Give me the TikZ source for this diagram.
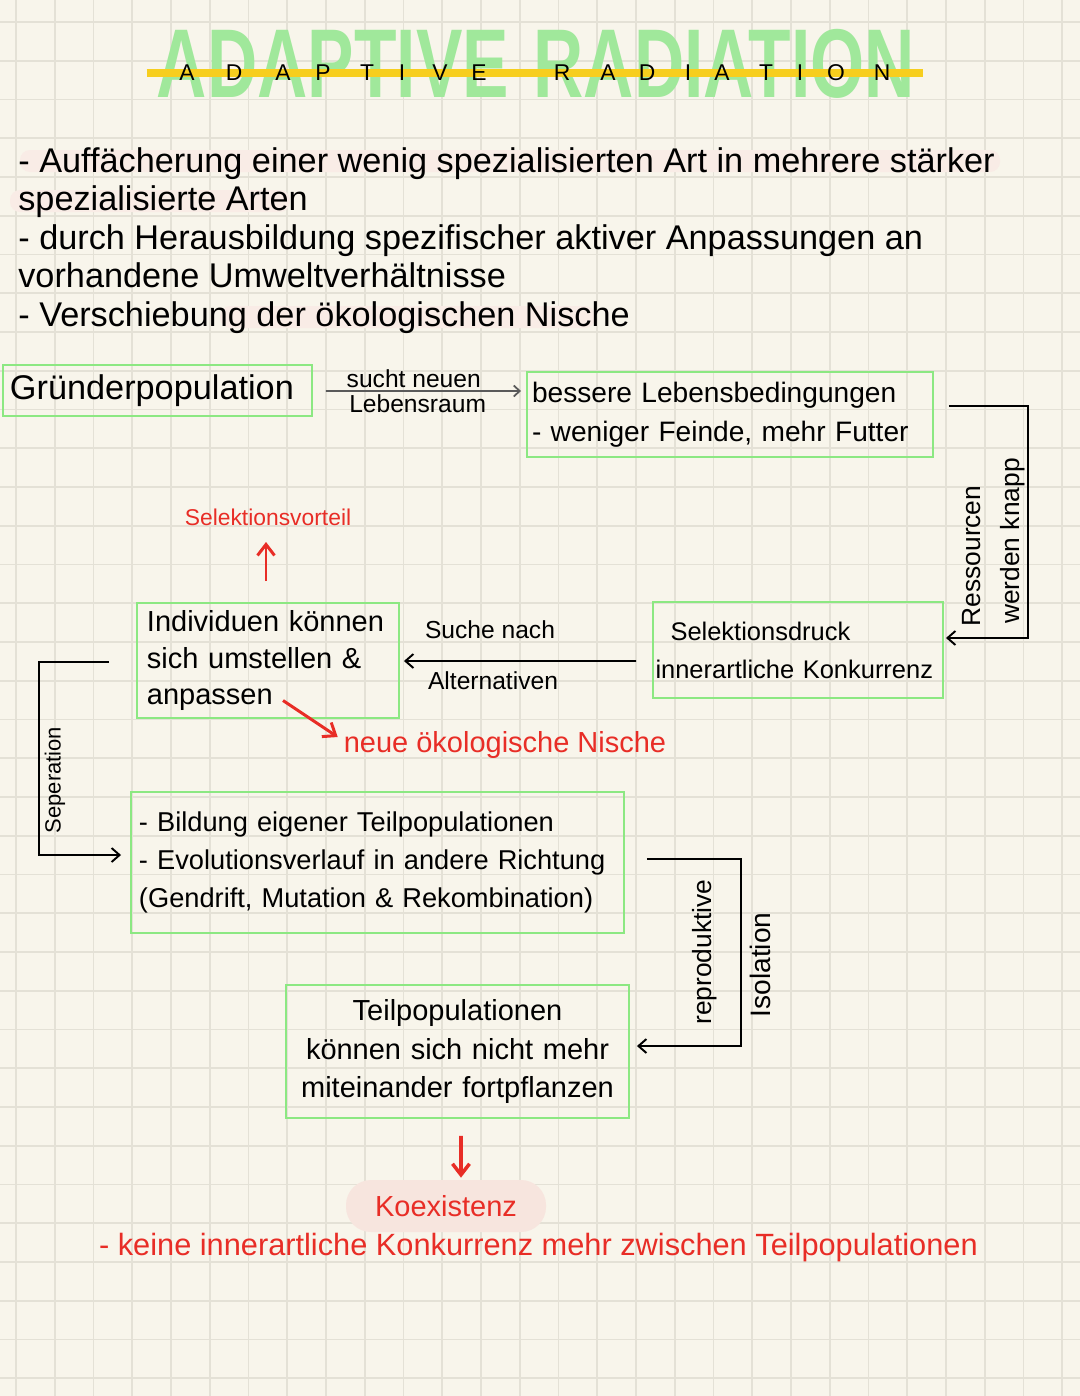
\documentclass[tikz,border=0pt]{standalone}
\usepackage{fontspec}
\usepackage{graphicx}
\setmainfont{Liberation Sans}
\usetikzlibrary{arrows.meta}

\definecolor{paper}{RGB}{248,245,235}
\definecolor{gridc}{RGB}{228,225,214}
\definecolor{boxgreen}{RGB}{140,232,130}
\definecolor{titlegreen}{RGB}{160,232,155}
\definecolor{titleyellow}{RGB}{247,206,30}
\definecolor{notered}{RGB}{232,45,38}
\definecolor{hlpink}{RGB}{247,229,222}
\definecolor{hlfaint}{RGB}{249,236,230}
\definecolor{arrowgray}{RGB}{90,90,90}

\begin{document}
\begin{tikzpicture}[x=0.2mm, y=-0.2mm,
  notebox/.style={
    rectangle, draw=boxgreen, line width=1.1pt,
    inner ysep=0pt, align=left
  },
  conn/.style={
    -{Straight Barb[length=1.6mm,width=2.8mm]},
    line width=1.1pt, black
  },
  grayconn/.style={
    -{Straight Barb[length=1.2mm,width=2.2mm]},
    line width=1pt, arrowgray
  },
  redconn/.style={
    -{Straight Barb[length=2.2mm,width=3.4mm]},
    line width=1.7pt, notered
  },
  annot/.style={
    font=\fontsize{14}{17}\selectfont, inner sep=1.5pt, text=black
  },
  redtext/.style={
    text=notered, inner sep=1pt
  },
  sidetext/.style={
    rotate=90, font=\fontsize{15}{18}\selectfont, inner sep=1pt
  },
  gridline/.style={gridc, line width=0.9pt},
  pinkhl/.style={fill=hlfaint, rounded corners=2mm}
]

% ==================== PAPER ====================

\useasboundingbox (0,0) rectangle (1080,1396);
\fill [paper] (0,0) rectangle (1080,1396);
\foreach \gx in {0,...,27}
  \draw [gridline] (16+38.75*\gx,0) -- (16+38.75*\gx,1396);
\foreach \gy in {0,...,35}
  \draw [gridline] (0,22+38.75*\gy) -- (1080,22+38.75*\gy);

% ==================== TITLE ====================

\node (titlebig) [text=titlegreen, inner sep=0pt,
    font=\fontsize{40}{40}\selectfont\bfseries] at (536,64)
    {\scalebox{0.99}[1.39]{ADAPTIVE\hspace{0.5cm}RADIATION}};

\draw [titleyellow, line width=1.6mm]
    ([shift={(-10,9)}]titlebig.west) -- ([shift={(8,9)}]titlebig.east);

\foreach \ch/\px [count=\k] in {A/187,D/234,A/283,P/323,T/367,I/402,V/440,E/479,
    R/562,A/608,D/647,I/688,A/722,T/766,I/800,O/836,N/882}
  \node (tl\k) [inner sep=0pt, font=\fontsize{13}{13}\selectfont] at (\px,73) {\ch};

% ==================== INTRO ====================

\fill [pinkhl] (20,150) rectangle (1000,172);
\fill [pinkhl] (10,190) rectangle (290,212);
\fill [pinkhl] (220,306) rectangle (595,328);

\node (intro) [anchor=north west, inner sep=0pt, align=left,
    font=\fontsize{19.5}{21.9}\selectfont] at (18,147) {
    - Auffächerung einer wenig spezialisierten Art in mehrere stärker\\
    spezialisierte Arten\\
    - durch Herausbildung spezifischer aktiver Anpassungen an\\
    vorhandene Umweltverhältnisse\\
    - Verschiebung der ökologischen Nische
};

% ==================== BOXES ====================

\node (gruender) [notebox, minimum width=6.18cm, minimum height=1.02cm,
    text width=5.9cm, inner xsep=0.14cm,
    font=\fontsize{19.5}{22}\selectfont] at (157.5,390.5) {Gründerpopulation};

\node (lebensbed) [notebox, minimum width=8.12cm, minimum height=1.7cm,
    text width=7.92cm, inner xsep=0.1cm,
    font=\fontsize{16}{22.5}\selectfont] at (730,414.5) {
    bessere Lebensbedingungen\\
    - weniger Feinde, mehr Futter
};

\node (individuen) [notebox, minimum width=5.24cm, minimum height=2.3cm,
    text width=4.84cm, inner xsep=0.2cm,
    font=\fontsize{16.5}{21}\selectfont] at (268,660.5) {
    Individuen können\\
    sich umstellen \&\\
    anpassen
};

\node (selekdruck) [notebox, minimum width=5.8cm, minimum height=1.92cm,
    text width=5.7cm, inner xsep=0.05cm,
    font=\fontsize{14.5}{21.5}\selectfont] at (798,650) {
    \hspace*{0.3cm}Selektionsdruck\\
    innerartliche Konkurrenz
};

\node (teilbildung) [notebox, minimum width=9.86cm, minimum height=2.82cm,
    text width=9.54cm, inner xsep=0.16cm,
    font=\fontsize{15.5}{21.6}\selectfont] at (377.5,862.5) {
    - Bildung eigener Teilpopulationen\\
    - Evolutionsverlauf in andere Richtung\\
    (Gendrift, Mutation \& Rekombination)
};

\node (teilpop) [notebox, align=center, minimum width=6.86cm, minimum height=2.66cm,
    text width=6.6cm, inner xsep=0.13cm,
    font=\fontsize{16.5}{21.9}\selectfont] at (457.5,1051.5) {
    Teilpopulationen\\
    können sich nicht mehr\\
    miteinander fortpflanzen
};

% ==================== RED NOTES ====================

\node (vorteil) [redtext, font=\fontsize{13}{15}\selectfont] at (268,517) {Selektionsvorteil};
\node (nische) [redtext, font=\fontsize{16.5}{19}\selectfont] at (505,745) {neue ökologische Nische};
\node (koexistenz) [redtext, fill=hlpink, rounded corners=5mm, minimum width=4cm,
    minimum height=1.04cm, font=\fontsize{16.5}{19}\selectfont] at (446,1206) {Koexistenz};
\node (keine) [redtext, anchor=west, font=\fontsize{17.5}{20}\selectfont] at (97,1248)
    {- keine innerartliche Konkurrenz mehr zwischen Teilpopulationen};

% ==================== SIDE LABELS ====================

\node (ressourcen) [sidetext] at (972,556) {Ressourcen};
\node (knapp) [sidetext] at (1013,541) {werden knapp};
\node (seperation) [sidetext, font=\fontsize{12.5}{15}\selectfont] at (55,780) {Seperation};
\node (reprod) [sidetext] at (705,952) {reproduktive};
\node (isolation) [sidetext, font=\fontsize{16}{18}\selectfont] at (760,965) {Isolation};

\node (suche) [annot] at (490,630) {Suche nach};
\node (alternativen) [annot] at (493,681) {Alternativen};

% ==================== CONNECTORS ====================

% Gruenderpopulation -> bessere Lebensbedingungen
\draw [grayconn] ([shift={(13,0.5)}]gruender.east) --
    node (sucht) [annot, above, pos=0.45] {sucht neuen}
    node (raum) [annot, below, pos=0.47] {Lebensraum}
    ([shift={(-5,-23.5)}]lebensbed.west);

% Ressourcen werden knapp -> Selektionsdruck
\draw [conn] ([shift={(15,-8.5)}]lebensbed.east) -| ([shift={(84,-12)}]selekdruck.east)
    -- ([shift={(2,-12)}]selekdruck.east);

% Selektionsdruck -> Individuen
\draw [conn] ([shift={(-16,11)}]selekdruck.west) -- ([shift={(4,0.5)}]individuen.east);

% Seperation
\draw [conn] ([shift={(-27,1.5)}]individuen.west) -| ([shift={(-91,-7.5)}]teilbildung.west)
    -- ([shift={(-9,-7.5)}]teilbildung.west);

% reproduktive Isolation
\draw [conn] ([shift={(22,-3.5)}]teilbildung.east) -| ([shift={(111,-5.5)}]teilpop.east)
    -- ([shift={(7,-5.5)}]teilpop.east);

% red arrows
\draw [redconn] ([shift={(-2,-21)}]individuen.north) -- ([shift={(-2,25)}]vorteil.center);
\draw [redconn] ([shift={(15,40)}]individuen.center) -- ([shift={(-4,-8)}]nische.west);
\draw [redconn, line width=2pt] ([shift={(3.5,17)}]teilpop.south) -- ([shift={(15,-2)}]koexistenz.north);

\end{tikzpicture}
\end{document}
